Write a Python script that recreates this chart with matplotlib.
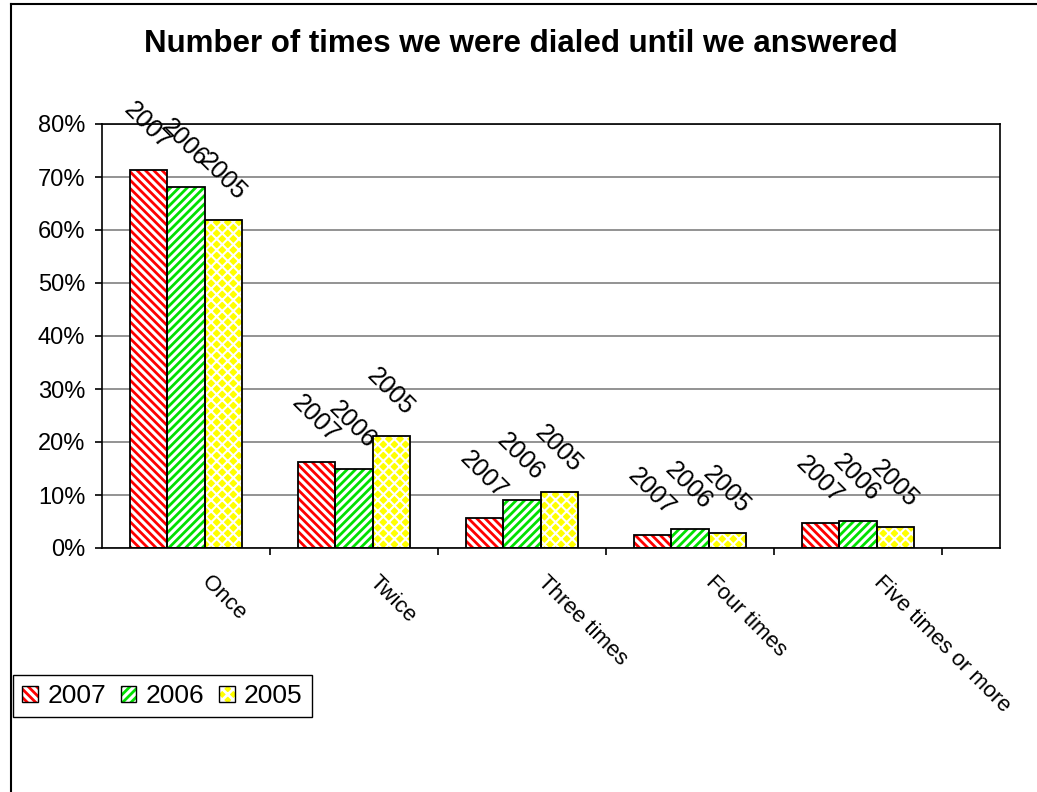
import matplotlib
matplotlib.use("Agg")
import matplotlib.pyplot as plt
from matplotlib.patches import Patch
from matplotlib.lines import Line2D
from matplotlib.legend_handler import HandlerTuple
from matplotlib.ticker import FuncFormatter, FixedLocator
import numpy as np

categories = ["Once", "Twice", "Three times", "Four times", "Five times or more"]
years = ["2007", "2006", "2005"]
share_2007 = [71.4, 16.2, 5.6, 2.4, 4.7]
share_2006 = [68.2, 15.0, 9.0, 3.6, 5.1]
share_2005 = [61.8, 21.2, 10.5, 2.8, 3.9]
y_ticks = [0, 10, 20, 30, 40, 50, 60, 70, 80]

series = [share_2007, share_2006, share_2005]
# (face colour, hatch colour, hatch pattern, hatch line width)
styles = [
    ("white", "#FF0000", "\\\\\\\\", 2.0),
    ("white", "#00E000", "////", 2.0),
    ("#FFFF00", "white", "xxx", 1.5),
]

plt.rcParams["font.family"] = ["Liberation Sans", "DejaVu Sans"]
plt.rcParams["hatch.linewidth"] = 2.0

W, H = 1037, 792
fig = plt.figure(figsize=(W / 100, H / 100), dpi=100)
fig.patch.set_facecolor("white")

left, right, bottom, top = 102 / W, 1000 / W, 1 - 548 / H, 1 - 124 / H
ax = fig.add_axes([left, bottom, right - left, top - bottom])

x = np.arange(len(categories))
bw = 0.224
offsets = [-bw, 0, bw]

for vals, (fc, hc, hatch, hlw), off in zip(series, styles, offsets):
    bars = ax.bar(x + off, vals, width=bw, facecolor=fc, edgecolor=hc, hatch=hatch,
                  linewidth=0, zorder=2)
    for b in bars:
        if hasattr(b, "set_hatch_linewidth"):
            b.set_hatch_linewidth(hlw)
    ax.bar(x + off, vals, width=bw, fill=False, edgecolor="black",
           linewidth=1.3, zorder=3)

for vals, yr, off in zip(series, years, offsets):
    for xi, v in zip(x, vals):
        ax.annotate(yr, (xi + off, v), xytext=(-1, 11), textcoords="offset points",
                    rotation=-45, ha="center", va="bottom", fontsize=18, zorder=4)

ax.set_xlim(-0.5, (1000 - 102) / 168 - 0.5)
ax.set_ylim(0, 80)
ax.yaxis.set_major_locator(FixedLocator(y_ticks))
ax.yaxis.set_major_formatter(FuncFormatter(lambda v, p: f"{v:.0f}%"))
ax.grid(axis="y", color="#808080", linewidth=1.2, zorder=1)
ax.set_axisbelow(True)
for s in ax.spines.values():
    s.set_color("black")
    s.set_linewidth(1.2)

ax.xaxis.set_major_locator(FixedLocator(np.arange(len(categories)) + 0.5))
ax.set_xticklabels([])
ax.tick_params(axis="x", direction="out", length=5, width=1.2)
ax.tick_params(axis="y", direction="out", length=5, width=1.2, labelsize=17, pad=7)

for xi, cat in zip(x, categories):
    ax.annotate(cat, (xi, 0), xycoords=("data", "axes fraction"),
                xytext=(8, -17), textcoords="offset points",
                rotation=-45, ha="left", va="top", fontsize=16)

fig.text(0.502, 1 - 52 / H, "Number of times we were dialed until we answered",
         ha="center", va="baseline", fontsize=22.5, fontweight="bold")

# outer chart border (left and top edges)
fig.add_artist(Line2D([11 / W, 11 / W], [0, 1 - 4 / H], color="black",
                      linewidth=1.5, transform=fig.transFigure))
fig.add_artist(Line2D([11 / W, 1], [1 - 4 / H, 1 - 4 / H], color="black",
                      linewidth=1.5, transform=fig.transFigure))

handles = []
for fc, hc, hatch, hlw in styles:
    handles.append((Patch(facecolor=fc, edgecolor=hc, hatch=hatch, linewidth=0),
                    Patch(fill=False, edgecolor="black", linewidth=1.0)))
leg = fig.legend(handles, years, handler_map={tuple: HandlerTuple(ndivide=1)},
                 loc="upper left", bbox_to_anchor=(13 / W, 1 - 675 / H),
                 bbox_transform=fig.transFigure, ncol=3, fontsize=19,
                 handlelength=0.6, handleheight=0.6, handletextpad=0.35,
                 columnspacing=0.55, borderpad=0.35, borderaxespad=0,
                 frameon=True, fancybox=False, framealpha=1)
leg.get_frame().set_edgecolor("black")
leg.get_frame().set_linewidth(1.0)

fig.savefig("out.png", dpi=100, facecolor="white")
